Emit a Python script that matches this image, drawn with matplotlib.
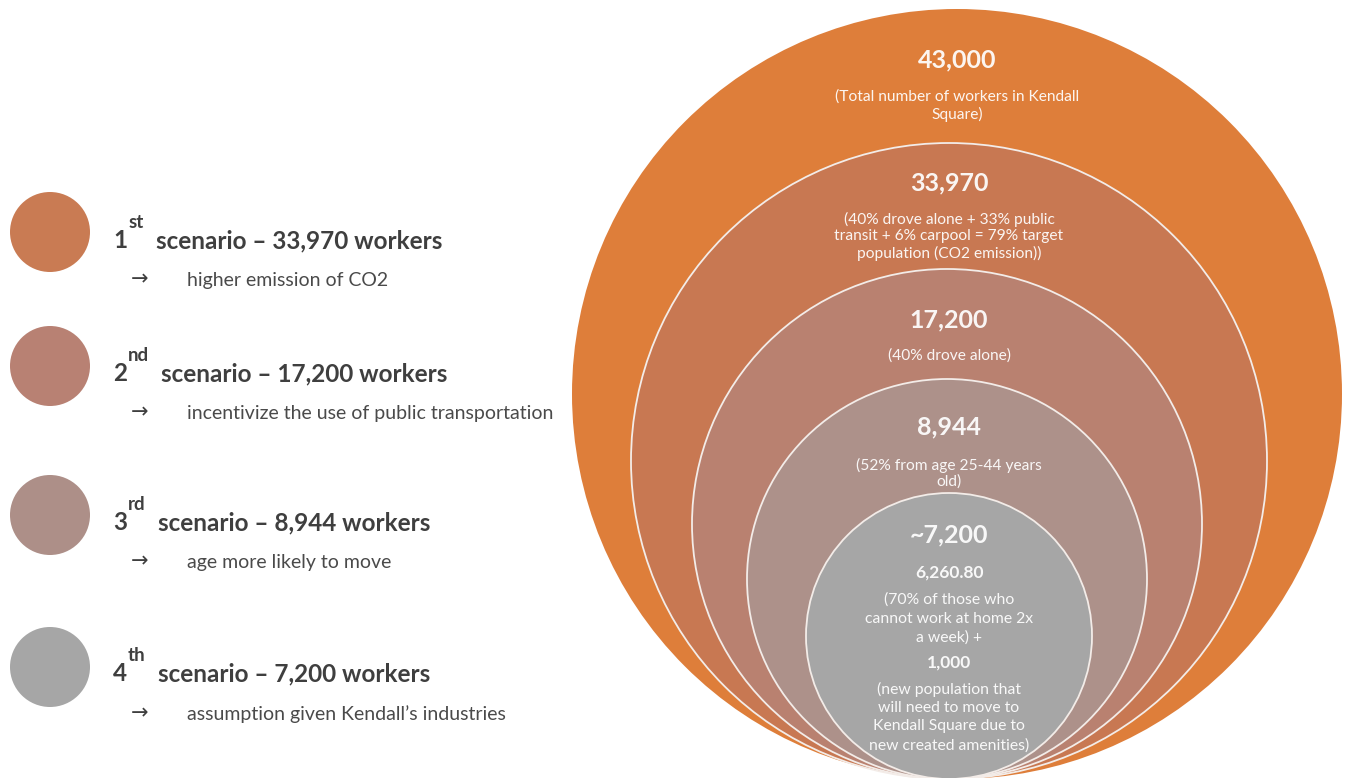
import matplotlib
matplotlib.use("Agg")
import matplotlib.pyplot as plt
from matplotlib.patches import Circle

plt.rcParams['font.family'] = ['Lato', 'DejaVu Sans']

# nested rings, outer to inner
ring_workers = [43000, 33970, 17200, 8944, 7200]
ring_prefix = ['', '', '', '', '~']
ring_notes = [
    ["(Total number of workers in Kendall", "Square)"],
    ["(40% drove alone + 33% public", "transit + 6% carpool = 79% target", "population (CO2 emission))"],
    ["(40% drove alone)"],
    ["(52% from age 25-44 years", "old)"],
]
inner_parts = [6260.80, 1000]
inner_notes = [
    ["(70% of those who", "cannot work at home 2x", "a week) +"],
    ["(new population that", "will need to move to", "Kendall Square due to", "new created amenities)"],
]

# scenario list on the left
scenario_ordinals = ['1', '2', '3', '4']
scenario_suffix = ['st', 'nd', 'rd', 'th']
scenario_workers = [33970, 17200, 8944, 7200]
scenario_notes = ['higher emission of CO2',
                  'incentivize the use of public transportation',
                  'age more likely to move',
                  'assumption given Kendall\u2019s industries']

# layout (pixels, y pointing down)
ring_cx = [957, 949, 947, 947, 949]
ring_r = [385, 318, 255, 200, 143]
ring_bottom = 779
ring_colors = ['#DE7E3A', '#C87852', '#B98170', '#AD918A', '#A6A6A6']
ring_title_y = [60, 183, 320, 427, 535]
ring_note_y = [97, 219, 356, 465]

dot_colors = ['#C97B53', '#B88173', '#AD8F88', '#A6A6A6']
dot_y = [232, 366, 515, 667]
main_base = [248, 381, 530, 681]
sub_base = [286, 419, 568, 720]

fig = plt.figure(figsize=(13.5, 7.78), dpi=100)
ax = fig.add_axes([0, 0, 1, 1])
ax.set_xlim(0, 1350)
ax.set_ylim(778, 0)
ax.axis('off')

white = dict(color='white', alpha=0.93, ha='center', va='center')

for i, (cx, r, c) in enumerate(zip(ring_cx, ring_r, ring_colors)):
    ec = 'none' if i == 0 else '#F3ECE8'
    ax.add_patch(Circle((cx, ring_bottom - r), r, facecolor=c,
                        edgecolor=ec, linewidth=1.3, zorder=i + 1))

for i, v in enumerate(ring_workers):
    ax.text(949 if i else 957, ring_title_y[i], ring_prefix[i] + f"{v:,}",
            fontsize=18, fontweight='bold', zorder=10, **white)

for i, lines in enumerate(ring_notes):
    for k, line in enumerate(lines):
        ax.text(949 if i else 957, ring_note_y[i] + k * 17, line,
                fontsize=11.2, zorder=10, **white)

# inner circle breakdown
ax.text(949, 573, f"{inner_parts[0]:,.2f}", fontsize=12.5, fontweight='bold', zorder=10, **white)
for k, line in enumerate(inner_notes[0]):
    ax.text(949, 600 + k * 19, line, fontsize=11.3, zorder=10, **white)
ax.text(949, 663, f"{inner_parts[1]:,}", fontsize=12.5, fontweight='bold', zorder=10, **white)
for k, line in enumerate(inner_notes[1]):
    ax.text(949, 689 + k * 18.7, line, fontsize=11.3, zorder=10, **white)

# left side scenarios
fig.canvas.draw()
rend = fig.canvas.get_renderer()
inv = ax.transData.inverted()
dark = '#3F3F3F'

for i in range(4):
    ax.add_patch(Circle((50, dot_y[i]), 40, facecolor=dot_colors[i], edgecolor='none'))
    t1 = ax.text(113, main_base[i], scenario_ordinals[i], fontsize=17.5, fontweight='bold',
                 color=dark, va='baseline', ha='left')
    x1 = inv.transform(t1.get_window_extent(rend).get_points())[1][0]
    t2 = ax.text(x1 + 1, main_base[i] - 20, scenario_suffix[i], fontsize=13.5,
                 fontweight='bold', color=dark, va='baseline', ha='left')
    x2 = inv.transform(t2.get_window_extent(rend).get_points())[1][0]
    ax.text(x2 + 12, main_base[i], f"scenario \u2013 {scenario_workers[i]:,} workers",
            fontsize=17.5, fontweight='bold', color=dark, va='baseline', ha='left')
    ax.text(131, sub_base[i] - 1, '\u2192', fontsize=15, color=dark, va='baseline', ha='left',
            family=['DejaVu Sans'])
    ax.text(187, sub_base[i], scenario_notes[i], fontsize=14, color='#4A4A4A',
            va='baseline', ha='left')

fig.savefig('out.png', dpi=100)
